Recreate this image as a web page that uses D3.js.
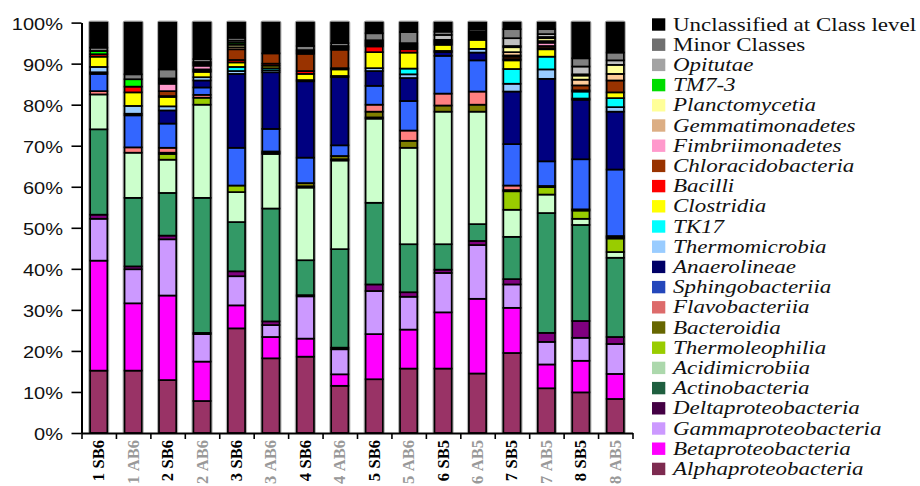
<!DOCTYPE html>
<html>
<head>
<meta charset="utf-8">
<script src="https://cdn.jsdelivr.net/npm/d3@7"></script>
<style>
  html, body { margin: 0; padding: 0; background: #fff; }
  svg { display: block; }
</style>
</head>
<body>
<svg id="chart" width="920" height="486"></svg>
<script>
// Samples along the x axis
const samples = ["1 SB6", "1 AB6", "2 SB6", "2 AB6", "3 SB6", "3 AB6", "4 SB6", "4 AB6",
                 "5 SB6", "5 AB6", "6 SB5", "6 AB5", "7 SB5", "7 AB5", "8 SB5", "8 AB5"];

// Relative abundance (%) of each class per sample
const alphaproteobacteria = [15.2, 15.2, 12.9, 7.8, 25.5, 18.2, 18.6, 11.5, 13.1, 15.7, 15.7, 14.5, 19.5, 10.9, 9.9, 8.3];
const betaproteobacteria  = [26.8, 16.4, 20.6, 9.6, 5.6, 5.2, 4.4, 2.8, 11.0, 9.5, 13.7, 18.2, 11.0, 5.8, 7.7, 6.1];
const gammaproteobacteria = [10.2, 8.3, 13.7, 6.7, 7.1, 2.9, 10.3, 6.1, 10.5, 8.0, 9.6, 13.1, 5.7, 5.5, 5.6, 7.3];
const deltaproteobacteria = [1.0, 0.7, 0.9, 0.3, 1.2, 0.9, 0.3, 0.4, 1.6, 1.1, 0.8, 1.0, 1.3, 2.2, 4.1, 1.7];
const actinobacteria      = [20.8, 16.7, 10.4, 32.9, 12.0, 27.5, 8.5, 24.0, 19.9, 11.7, 6.2, 4.1, 10.3, 29.2, 23.4, 19.3];
const acidimicrobiia      = [8.5, 11.0, 8.1, 22.7, 7.3, 13.3, 17.7, 21.6, 20.5, 23.5, 32.3, 27.4, 6.6, 4.5, 1.5, 1.4];
const thermoleophilia     = [0, 0, 1.4, 1.7, 1.6, 0.3, 0.3, 0.3, 0.3, 0, 0, 0, 4.5, 1.8, 2.0, 3.3];
const bacteroidia         = [0, 0, 0.3, 0, 0, 0.3, 0.8, 0.8, 1.4, 1.7, 1.5, 1.7, 0.3, 0.3, 0.3, 0.3];
const flavobacteriia      = [0.8, 1.3, 1.2, 0.7, 0, 0, 0, 0, 1.7, 2.5, 2.9, 3.2, 1.1, 0, 0, 0.3];
const sphingobacteriia    = [4.2, 7.8, 5.9, 1.8, 9.2, 5.5, 6.2, 2.6, 4.6, 7.2, 9.2, 7.6, 10.1, 6.0, 12.2, 16.2];
const anaerolineae        = [0.4, 0.4, 3.2, 1.7, 18.0, 13.8, 18.6, 16.6, 3.6, 5.6, 0.9, 1.9, 12.8, 20.1, 14.5, 14.1];
const thermomicrobia      = [1.3, 1.9, 1.0, 0.8, 0.7, 0.5, 0.3, 0.3, 0.7, 0.9, 0.3, 0.9, 1.9, 2.3, 0.3, 1.1];
const tk17                = [0, 0, 0, 0, 1.0, 0.5, 0, 0, 0, 1.4, 0, 0, 3.6, 3.1, 1.7, 2.2];
const clostridia          = [2.5, 3.3, 2.3, 1.3, 1.1, 0.6, 1.5, 1.6, 3.9, 3.9, 1.5, 2.2, 2.1, 1.8, 0.3, 1.4];
const bacilli             = [0.6, 1.4, 0.2, 0.3, 0.6, 0.5, 0.7, 0.3, 1.4, 0.8, 0, 0.3, 0.3, 0.3, 0, 0];
const chloracidobacteria  = [0, 0, 1.2, 0.3, 2.6, 2.5, 4.2, 4.5, 0.3, 0.3, 0.3, 0.3, 0.6, 0.5, 1.2, 2.9];
const fimbriimonadetes    = [0, 0, 1.8, 0.9, 0, 0, 0.3, 0.3, 0.3, 0.3, 0, 0.3, 0.3, 0.8, 0, 0];
const gemmatimonadetes    = [0, 0, 0.3, 0, 0.5, 0, 0, 0, 0.3, 0.3, 0.3, 0.3, 0.8, 0.4, 1.4, 1.6];
const planctomycetia      = [0, 0, 0.4, 0.3, 0.6, 0, 0.3, 0.3, 0.3, 0.3, 0.3, 0.3, 1.2, 0.7, 1.0, 2.2];
const tm7_3               = [0.8, 1.8, 0.3, 0.3, 0.5, 0, 0, 0, 0.3, 0.3, 0.3, 0.3, 0.3, 0.3, 0.3, 0];
const opitutae            = [0, 0, 0.3, 0.3, 0.5, 0, 0.3, 0.3, 0, 0, 1.2, 0.3, 1.9, 0.7, 1.9, 1.1];
const minorClasses        = [0.8, 1.2, 2.2, 0.7, 0.7, 0, 1.0, 0.7, 1.7, 2.7, 0.8, 0.5, 2.2, 1.2, 2.0, 1.9];
const unclassified        = [6.1, 12.6, 11.4, 8.9, 3.7, 7.5, 5.7, 5.0, 2.6, 2.3, 2.2, 1.6, 1.6, 1.6, 8.7, 7.3];

// Legend order (top to bottom); the stack is drawn in the reverse order
const classNames = ["Unclassified at Class level", "Minor Classes", "Opitutae", "TM7-3", "Planctomycetia",
  "Gemmatimonadetes", "Fimbriimonadetes", "Chloracidobacteria", "Bacilli", "Clostridia", "TK17",
  "Thermomicrobia", "Anaerolineae", "Sphingobacteriia", "Flavobacteriia", "Bacteroidia", "Thermoleophilia",
  "Acidimicrobiia", "Actinobacteria", "Deltaproteobacteria", "Gammaproteobacteria", "Betaproteobacteria",
  "Alphaproteobacteria"];

const classValues = [unclassified, minorClasses, opitutae, tm7_3, planctomycetia, gemmatimonadetes,
  fimbriimonadetes, chloracidobacteria, bacilli, clostridia, tk17, thermomicrobia, anaerolineae,
  sphingobacteriia, flavobacteriia, bacteroidia, thermoleophilia, acidimicrobiia, actinobacteria,
  deltaproteobacteria, gammaproteobacteria, betaproteobacteria, alphaproteobacteria];

// Fill colours of the bar segments
const barColors = ["#000000", "#808080", "#c0c0c0", "#00ff00", "#ffff99", "#ffcc99", "#ff99cc", "#993300",
  "#ff0000", "#ffff00", "#00ffff", "#99ccff", "#000080", "#3366ff", "#ff8080", "#808000", "#99cc00",
  "#ccffcc", "#339966", "#800080", "#cc99ff", "#ff00ff", "#993366"];

// Legend swatch colours
const swatchColors = ["#000000", "#6f6f6f", "#a3a3a3", "#00dd00", "#ffff99", "#dcae84", "#ff99cc", "#993300",
  "#ff0000", "#ffff00", "#00ffff", "#99ccff", "#000066", "#2447bb", "#dd6b6b", "#666600", "#99cc00",
  "#acd8ac", "#1f5f3f", "#440044", "#cc99ff", "#ff00ff", "#7d2a50"];

const yTicks = [0, 0.1, 0.2, 0.3, 0.4, 0.5, 0.6, 0.7, 0.8, 0.9, 1.0];

// ---------------------------------------------------------------------------
const svg = d3.select("#chart");

const plot = { left: 81.5, right: 632.5, top: 22.6, bottom: 433 };

const x = d3.scaleBand()
  .domain(samples)
  .range([plot.left, plot.right])
  .paddingInner(0.5)
  .paddingOuter(0.25);

const xEdge = d3.scaleLinear().domain([0, samples.length]).range([plot.left, plot.right]);

const y = d3.scaleLinear().domain([0, 1]).range([plot.bottom, plot.top]);

const color = d3.scaleOrdinal().domain(classNames).range(barColors);
const swatch = d3.scaleOrdinal().domain(classNames).range(swatchColors);

// Stack from the bottom class upward, normalised to 100%
const stackKeys = classNames.slice().reverse();
const rows = samples.map((s, i) => {
  const r = { sample: s };
  classNames.forEach((c, k) => { r[c] = classValues[k][i]; });
  return r;
});
const series = d3.stack().keys(stackKeys).offset(d3.stackOffsetExpand)(rows);

// Soft grey halo around each bar
svg.append("g").selectAll("rect")
  .data(samples)
  .join("rect")
  .attr("x", d => x(d) - 0.9)
  .attr("y", y(1) - 0.9)
  .attr("width", x.bandwidth() + 1.8)
  .attr("height", y(0) - y(1) + 0.9)
  .attr("rx", 1.5)
  .attr("fill", "none")
  .attr("stroke", "#b4b4b4")
  .attr("stroke-width", 2.2);

// Stacked segments
svg.append("g")
  .selectAll("g")
  .data(series)
  .join("g")
  .attr("fill", d => color(d.key))
  .selectAll("rect")
  .data(d => d.filter(p => p[1] - p[0] > 0))
  .join("rect")
  .attr("x", d => x(d.data.sample))
  .attr("y", d => y(d[1]))
  .attr("width", x.bandwidth())
  .attr("height", d => y(d[0]) - y(d[1]))
  .attr("stroke", "#000")
  .attr("stroke-width", 1.7);

// Y axis
const yAxis = svg.append("g")
  .attr("transform", `translate(${plot.left},0)`)
  .call(d3.axisLeft(y).tickValues(yTicks).tickFormat(d3.format(".0%")).tickSize(10).tickSizeOuter(0));
yAxis.select(".domain").attr("stroke", "#000").attr("stroke-width", 2);
yAxis.selectAll(".tick line").attr("stroke", "#000").attr("stroke-width", 1.6);
yAxis.selectAll(".tick text")
  .attr("x", 0)
  .attr("dy", "0.36em")
  .attr("transform", "translate(-18.5,1) scale(1.25,1)")
  .attr("text-anchor", "end")
  .attr("fill", "#111")
  .style("font-family", "'Liberation Sans', Arial, sans-serif")
  .style("font-size", "16px");

// X axis with ticks between the bars
const xAxis = svg.append("g")
  .attr("transform", `translate(0,${plot.bottom})`)
  .call(d3.axisBottom(xEdge).tickValues(d3.range(0, samples.length + 1)).tickFormat("").tickSize(6).tickSizeOuter(0));
xAxis.select(".domain").attr("stroke", "#000").attr("stroke-width", 2);
xAxis.selectAll(".tick line").attr("stroke", "#000").attr("stroke-width", 1.6);

// Rotated sample labels
const labels = svg.append("g")
  .selectAll("text")
  .data(samples)
  .join("text")
  .attr("transform", d => `translate(${x(d) + x.bandwidth() / 2 + 5.5},440) rotate(-90)`)
  .attr("text-anchor", "end")
  .attr("xml:space", "preserve")
  .style("white-space", "pre")
  .style("font-family", "'Liberation Serif', 'Times New Roman', serif")
  .style("font-size", "16.5px")
  .style("font-weight", "bold")
  .attr("fill", d => d.includes("SB") ? "#000" : "#999");
labels.append("tspan").text(d => d.split(" ")[0]);
labels.append("tspan").attr("dx", 4.5).text(d => d.split(" ")[1]);

// Legend
const legend = svg.append("g");
const rowStep = 20.2;
const lg = legend.selectAll("g")
  .data(classNames)
  .join("g")
  .attr("transform", (d, i) => `translate(652,${18.3 + i * rowStep})`);
lg.append("rect")
  .attr("width", 13.3)
  .attr("height", 12.4)
  .attr("fill", d => swatch(d));
lg.append("text")
  .attr("transform", "translate(21,12.2) scale(1.21,1)")
  .style("font-family", "'Liberation Serif', 'Times New Roman', serif")
  .style("font-size", "19px")
  .style("font-style", (d, i) => i >= 2 ? "italic" : "normal")
  .attr("fill", "#111")
  .text(d => d);
</script>
</body>
</html>
